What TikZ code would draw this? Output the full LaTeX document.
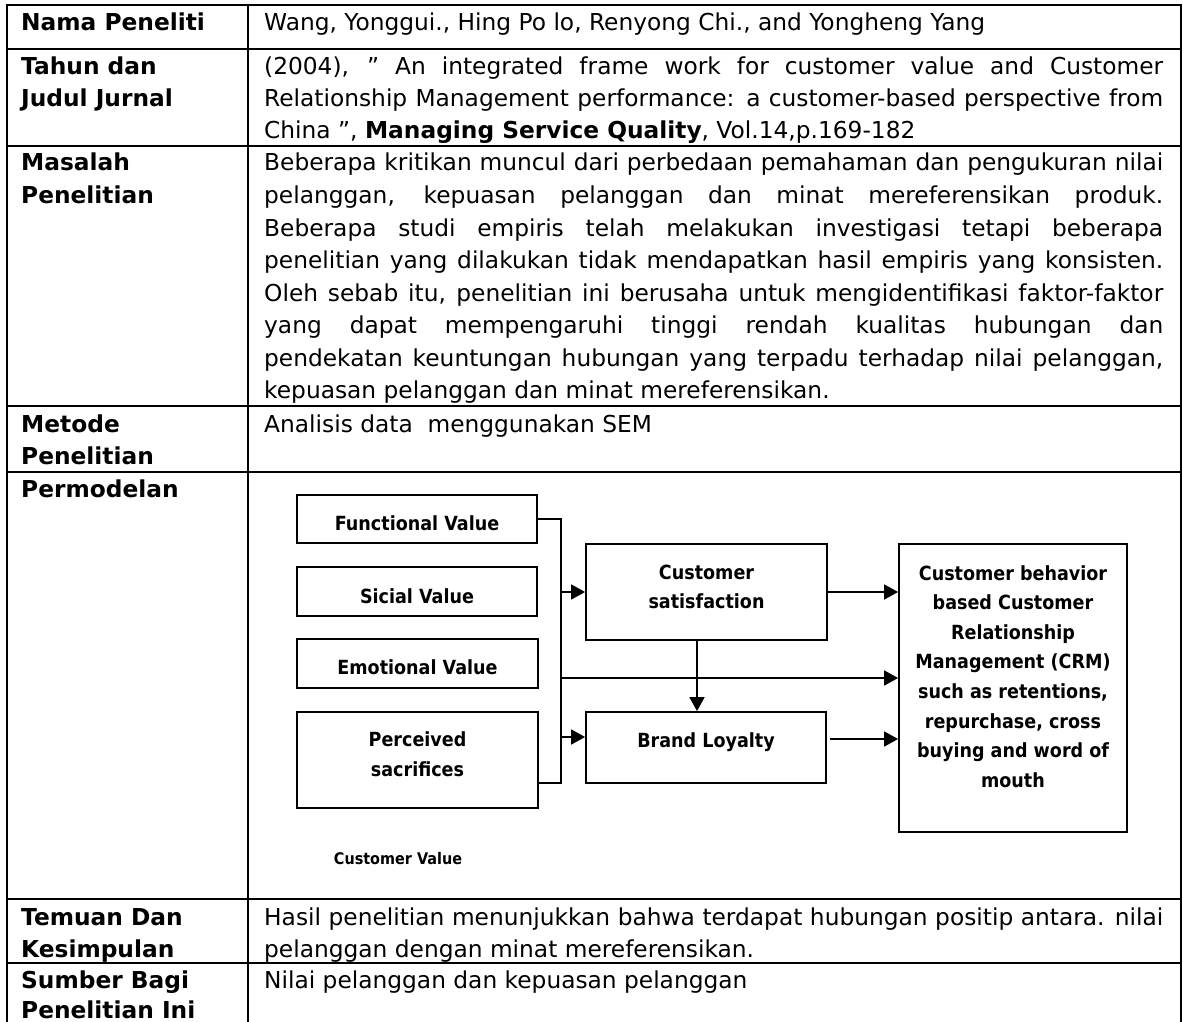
\documentclass[tikz,border=0pt]{standalone}
\usepackage{fontspec}
\setmainfont{DejaVu Sans}
\newfontfamily\diagfont[FakeStretch=0.9]{DejaVu Sans}
\usetikzlibrary{arrows.meta}
\newcommand{\jline}[1]{\makebox[899pt][s]{#1}}
\begin{document}
\begin{tikzpicture}[x=1pt,y=-1pt,
  grid/.style={line width=2.4pt},
  txt/.style={anchor=base west, inner sep=0pt, font=\fontsize{23.3}{32.5}\selectfont},
  hd/.style={anchor=base west, inner sep=0pt, font=\fontsize{23.3}{32.5}\selectfont\bfseries},
  vbox/.style={draw, line width=1.8pt, inner sep=0pt, rectangle},
  dt/.style={anchor=base, inner sep=0pt, font=\diagfont\bfseries\fontsize{19.5}{28}\selectfont},
  ln/.style={line width=1.6pt},
  arr/.style={line width=1.6pt, -{Triangle[length=14pt,width=15pt]}}]
\useasboundingbox (0,0) rectangle (1183,1022);
\clip (0,0) rectangle (1183,1022);
\fill[white] (0,0) rectangle (1183,1022);
% table grid
\draw[grid] (7,1030) -- (7,5) -- (1181,5) -- (1181,1030);
\draw[grid] (248,5) -- (248,1030);
\foreach \yy in {49,146,406,472,899,963} \draw[grid] (7,\yy) -- (1181,\yy);
% row 1
\node[hd] (h1) at (21,31) {Nama Peneliti};
\node[txt] (t1) at (264,31) {Wang, Yonggui., Hing Po lo, Renyong Chi., and Yongheng Yang};
% row 2
\node[hd] (h2a) at (21,75) {Tahun dan};
\node[hd] (h2b) at (21,107) {Judul Jurnal};
\node[txt] (t2a) at (264,75) {\jline{(2004), " An integrated frame work for customer value and Customer}};
\node[txt] (t2b) at (264,107) {\jline{Relationship Management performance: a customer-based perspective from}};
\node[txt] (t2c) at (264,139) {China ", \textbf{Managing Service Quality}, Vol.14,p.169-182};
% row 3
\node[hd] (h3a) at (21,171) {Masalah};
\node[hd] (h3b) at (21,203.5) {Penelitian};
\node[txt] (t3a) at (264,171) {\jline{Beberapa kritikan muncul dari perbedaan pemahaman dan pengukuran nilai}};
\node[txt] (t3b) at (264,203.5) {\jline{pelanggan, kepuasan pelanggan dan minat mereferensikan produk.}};
\node[txt] (t3c) at (264,236) {\jline{Beberapa studi empiris telah melakukan investigasi tetapi beberapa}};
\node[txt] (t3d) at (264,268.5) {\jline{penelitian yang dilakukan tidak mendapatkan hasil empiris yang konsisten.}};
\node[txt] (t3e) at (264,301) {\jline{Oleh sebab itu, penelitian ini berusaha untuk mengidentifikasi faktor-faktor}};
\node[txt] (t3f) at (264,333.5) {\jline{yang dapat mempengaruhi tinggi rendah kualitas hubungan dan}};
\node[txt] (t3g) at (264,366) {\jline{pendekatan keuntungan hubungan yang terpadu terhadap nilai pelanggan,}};
\node[txt] (t3h) at (264,398.5) {kepuasan pelanggan dan minat mereferensikan.};
% row 4
\node[hd] (h4a) at (21,432) {Metode};
\node[hd] (h4b) at (21,464) {Penelitian};
\node[txt] (t4) at (264,432) {Analisis data\ \ menggunakan SEM};
% row 5
\node[hd] (h5) at (21,497) {Permodelan};
% row 6
\node[hd] (h6a) at (21,925) {Temuan Dan};
\node[hd] (h6b) at (21,957) {Kesimpulan};
\node[txt] (t6a) at (264,925) {\jline{Hasil penelitian menunjukkan bahwa terdapat hubungan positip antara. nilai}};
\node[txt] (t6b) at (264,957) {pelanggan dengan minat mereferensikan.};
% row 7
\node[hd] (h7a) at (21,988) {Sumber Bagi};
\node[hd] (h7b) at (21,1018) {Penelitian Ini};
\node[txt] (t7) at (264,988) {Nilai pelanggan dan kepuasan pelanggan};
% diagram boxes
\node[vbox, minimum width=240pt, minimum height=48pt] (fv) at (417,519) {};
\node[vbox, minimum width=240pt, minimum height=49pt] (sv) at (417,591.5) {};
\node[vbox, minimum width=241pt, minimum height=49pt] (ev) at (417.5,663.5) {};
\node[vbox, minimum width=241pt, minimum height=96pt] (ps) at (417.5,760) {};
\node[vbox, minimum width=241pt, minimum height=96pt] (cs) at (706.5,592) {};
\node[vbox, minimum width=240pt, minimum height=71pt] (bl) at (706,747.5) {};
\node[vbox, minimum width=228pt, minimum height=288pt] (crm) at (1013,688) {};
% diagram texts
\node[dt] (fvt) at (417,530) {Functional Value};
\node[dt] (svt) at (417,603) {Sicial Value};
\node[dt] (evt) at (417.5,674) {Emotional Value};
\node[dt] (pst1) at (417.5,746) {Perceived};
\node[dt] (pst2) at (417.5,776) {sacrifices};
\node[dt] (cst1) at (706.5,579) {Customer};
\node[dt] (cst2) at (706.5,608) {satisfaction};
\node[dt] (blt) at (706,747) {Brand Loyalty};
\node[dt] (c1) at (1013,580) {Customer behavior};
\node[dt] (c2) at (1013,609.6) {based Customer};
\node[dt] (c3) at (1013,639.2) {Relationship};
\node[dt] (c4) at (1013,668.8) {Management (CRM)};
\node[dt] (c5) at (1013,698.4) {such as retentions,};
\node[dt] (c6) at (1013,728) {repurchase, cross};
\node[dt] (c7) at (1013,757.6) {buying and word of};
\node[dt] (c8) at (1013,787.2) {mouth};
\node[dt, font=\diagfont\bfseries\fontsize{16}{20}\selectfont] (cv) at (398,864) {Customer Value};
% connectors
\coordinate (bt) at (561,519);
\coordinate (bb) at (561,783);
\coordinate (thru) at (561,678);
\coordinate (blin) at (561,737);
\coordinate (vt) at (697,640);
\coordinate (blo) at (830,739);
\draw[ln] (fv.east) -- (bt) -- (bb) -- (bb -| ps.east);
\draw[arr] (bt |- cs.west) -- (cs.west);
\draw[arr] (blin) -- (blin -| bl.west);
\draw[arr] (thru) -- (thru -| crm.west);
\draw[arr] (cs.east) -- (cs.east -| crm.west);
\draw[arr] (vt) -- (vt |- bl.north);
\draw[arr] (blo) -- (blo -| crm.west);
\end{tikzpicture}
\end{document}
